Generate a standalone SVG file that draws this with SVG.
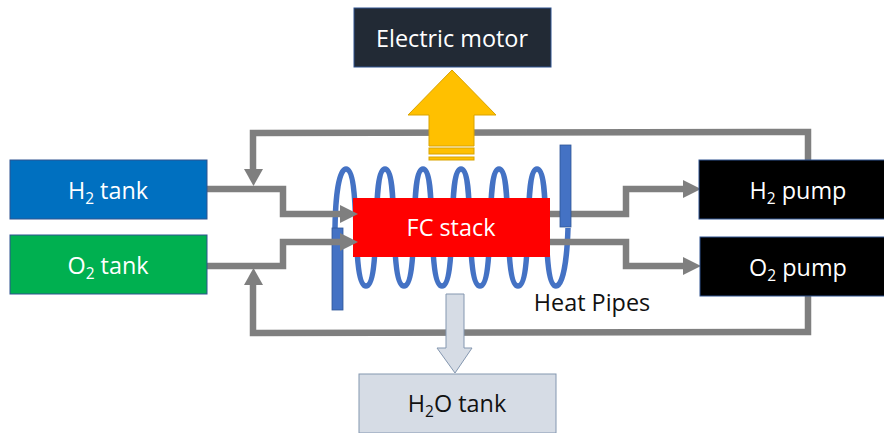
<svg xmlns="http://www.w3.org/2000/svg" width="884" height="433" viewBox="0 0 884 433">
<style>
text{font-family:"Open Sans","Noto Sans","Liberation Sans",sans-serif;font-size:23.400px;text-anchor:middle;fill:#fff}
.sub{font-size:15.500px}
.dark{fill:#111}
.box{stroke:#2f528f;stroke-width:1}
.pipe{fill:none;stroke:#7f7f7f;stroke-width:6.500}
.head{fill:#7f7f7f}
.bar{fill:#4472c4;stroke:#2f5597;stroke-width:.8}
</style>
<rect width="884" height="433" fill="#fff"/>
<path id="coil" fill="none" stroke="#4472c4" stroke-width="5.500" d="M335 228C335.500 195 339 169 346 169C353 169 355 195 356 228C357 260 359 286 366 286C373 286 375 260 376 228C377 195 378 169 385 169C392 169 393 195 394 228C395 260 397 286 404 286C411 286 413 260 414 228C415 195 416 169 423 169C430 169 431 195 432 228C433 260 435 286 442 286C449 286 451 260 452 228C453 195 454 169 461 169C468 169 469 195 470 228C471 260 473 286 480 286C487 286 489 260 490 228C491 195 492 169 499 169C506 169 507 195 508 228C509 260 511 286 518 286C525 286 527 260 528 228C529 195 530 169 537 169C544 169 545 195 546 228C547 260 549 286 556 286C563 286 567 260 568 228"/>
<g id="fc-stack"><rect x="353" y="198" width="197" height="59" fill="#f00"/><text x="451" y="236">FC stack</text></g>
<rect id="heat-bar-left" class="bar" x="332" y="228" width="11" height="82"/>
<g id="connectors">
<path class="pipe" d="M808 160V132L253 133V172"/><path class="head" d="M244 169H263L253.500 186Z"/>
<path class="pipe" d="M808 295V332L253 333V283"/><path class="head" d="M244 285H263L253.500 268Z"/>
<path class="pipe" d="M207 189H283V214H342"/><path class="head" d="M340 205L358 214L340 223Z"/>
<path class="pipe" d="M207 266H283V242H342"/><path class="head" d="M340 233L358 242L340 251Z"/>
<path class="pipe" d="M550 214H626V189H685"/><path class="head" d="M683 180L701 189L683 198Z"/>
<path class="pipe" d="M550 242H626V266H685"/><path class="head" d="M683 257L701 266L683 275Z"/>
</g>
<rect id="heat-bar-right" class="bar" x="560" y="145" width="11" height="82"/>
<g id="power-arrow" fill="#ffc000" stroke="#d9a300" stroke-width="1">
<path d="M452 70L496 115H474V146H429V115H408Z"/><rect x="429" y="148" width="45" height="6"/><rect x="429" y="157" width="45" height="3"/>
</g>
<path id="water-arrow" fill="#d6dce5" stroke="#8497b0" stroke-width="1" d="M446 294H464V348H472L455 373L437 348H446Z"/>
<g id="electric-motor"><rect class="box" x="354" y="8" width="197" height="59" fill="#222a35"/><text x="452" y="47">Electric motor</text></g>
<g id="h2-tank"><rect class="box" x="10" y="160" width="197" height="59" fill="#0070c0"/><text x="108" y="199">H<tspan class="sub" dy="5">2</tspan><tspan dy="-5"> tank</tspan></text></g>
<g id="o2-tank"><rect class="box" x="10" y="235" width="197" height="59" fill="#00b050"/><text x="108" y="274">O<tspan class="sub" dy="5">2</tspan><tspan dy="-5"> tank</tspan></text></g>
<g id="h2-pump"><rect class="box" x="699" y="160" width="186" height="59" fill="#000"/><text x="798" y="199">H<tspan class="sub" dy="5">2</tspan><tspan dy="-5"> pump</tspan></text></g>
<g id="o2-pump"><rect class="box" x="700" y="237" width="185" height="59" fill="#000"/><text x="798" y="276">O<tspan class="sub" dy="5">2</tspan><tspan dy="-5"> pump</tspan></text></g>
<g id="h2o-tank"><rect x="359" y="374" width="197" height="59" fill="#d6dce5" stroke="#8497b0"/><text class="dark" x="457" y="412">H<tspan class="sub" dy="5">2</tspan><tspan dy="-5">O tank</tspan></text></g>
<text id="heat-pipes" class="dark" x="592" y="311">Heat Pipes</text>
</svg>
